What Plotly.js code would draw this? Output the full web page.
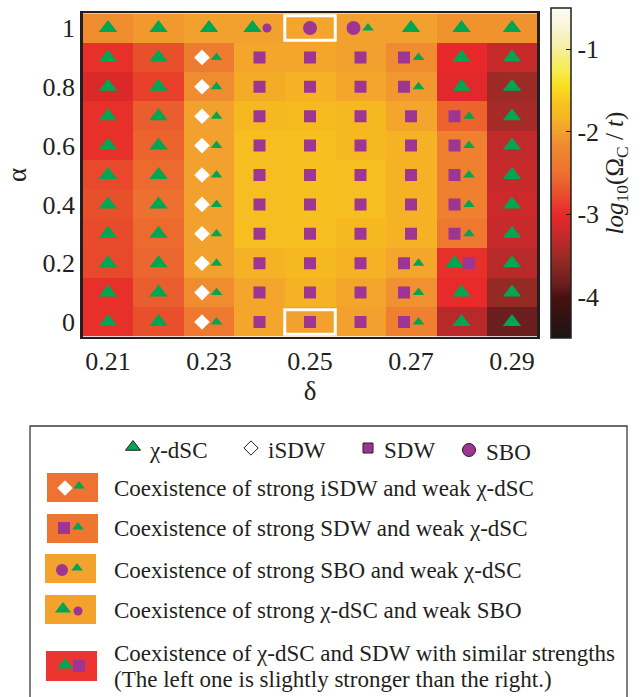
<!DOCTYPE html>
<html>
<head>
<meta charset="utf-8">
<script src="https://cdn.plot.ly/plotly-3.0.1.min.js"></script>
<style>html,body{margin:0;padding:0;background:#fff;}#chart{width:643px;height:697px;}</style>
</head>
<body>
<div id="chart"></div>
<script>
// ---------- data ----------
var deltas = [0.21, 0.22, 0.23, 0.24, 0.25, 0.26, 0.27, 0.28, 0.29];
var alphas = [0, 0.1, 0.2, 0.3, 0.4, 0.5, 0.6, 0.7, 0.8, 0.9, 1.0];
var xTickVals = [0.21, 0.23, 0.25, 0.27, 0.29];
var xTickText = ['0.21', '0.23', '0.25', '0.27', '0.29'];
var yTickVals = [0, 0.2, 0.4, 0.6, 0.8, 1];
var yTickText = ['0', '0.2', '0.4', '0.6', '0.8', '1'];
var cbTickVals = [-4, -3, -2, -1];
var cbTickText = ['-4', '-3', '-2', '-1'];

// log10(Omega_C / t), rows = alpha (0 -> 1), columns = delta
var logOmega = [
  [-2.95, -2.75, -2.40, -1.95, -2.00, -2.00, -2.30, -3.35, -3.85],
  [-2.95, -2.65, -2.15, -1.95, -1.85, -1.95, -2.12, -2.98, -3.55],
  [-2.80, -2.57, -2.00, -1.85, -1.80, -1.85, -1.95, -2.95, -3.35],
  [-2.78, -2.55, -2.00, -1.72, -1.72, -1.80, -1.85, -2.40, -3.25],
  [-2.75, -2.50, -2.00, -1.72, -1.70, -1.72, -1.85, -2.30, -3.20],
  [-2.80, -2.55, -2.00, -1.72, -1.70, -1.72, -1.85, -2.30, -3.25],
  [-2.95, -2.60, -2.00, -1.72, -1.70, -1.80, -1.85, -2.30, -3.30],
  [-2.95, -2.65, -2.00, -1.80, -1.78, -1.80, -1.95, -2.60, -3.45],
  [-3.10, -2.85, -2.15, -1.90, -1.85, -1.95, -2.05, -3.05, -3.50],
  [-2.95, -2.75, -2.35, -1.95, -1.95, -2.00, -2.15, -3.00, -3.25],
  [-2.15, -2.05, -2.00, -2.00, -1.95, -2.00, -2.00, -2.10, -2.10]
];

// phases per cell: T = chi-dSC (strong), t = chi-dSC (weak), D = iSDW, S = SDW,
// C = SBO (strong), c = SBO (weak); "A+B" = coexistence, first one on the left
var phases = [
  ['T', 'T', 'D+t', 'S', 'S', 'S', 'S+t', 'T',   'T'],
  ['T', 'T', 'D+t', 'S', 'S', 'S', 'S+t', 'T',   'T'],
  ['T', 'T', 'D+t', 'S', 'S', 'S', 'S+t', 'T+S', 'T'],
  ['T', 'T', 'D+t', 'S', 'S', 'S', 'S',   'S+t', 'T'],
  ['T', 'T', 'D+t', 'S', 'S', 'S', 'S',   'S+t', 'T'],
  ['T', 'T', 'D+t', 'S', 'S', 'S', 'S',   'S+t', 'T'],
  ['T', 'T', 'D+t', 'S', 'S', 'S', 'S',   'S+t', 'T'],
  ['T', 'T', 'D+t', 'S', 'S', 'S', 'S',   'S+t', 'T'],
  ['T', 'T', 'D+t', 'S', 'S', 'S', 'S+t', 'T',   'T'],
  ['T', 'T', 'D+t', 'S', 'S', 'S', 'S+t', 'T',   'T'],
  ['T', 'T', 'T',   'T+c', 'C', 'C+t', 'T', 'T', 'T']
];

// highlighted cells [delta, alpha]
var highlightCells = [[0.25, 1.0], [0.25, 0.0]];

var legendPhases = ['χ-dSC', 'iSDW', 'SDW', 'SBO'];
var legendRows = [
  'Coexistence of strong iSDW and weak χ-dSC',
  'Coexistence of strong SDW and weak χ-dSC',
  'Coexistence of strong SBO and weak χ-dSC',
  'Coexistence of strong χ-dSC and weak SBO',
  'Coexistence of χ-dSC and SDW with similar strengths',
  '(The left one is slightly stronger than the right.)'
];

// ---------- styles ----------
var FONT = 'Liberation Serif, Times New Roman, serif';
var GREEN = '#00a651', PURPLE = '#9e3592', INK = '#231f20';
var zmin = -4.5, zmax = -0.5;
var cNodes = [
  [-4.5, '#1c1414'], [-4.0, '#4a1010'], [-3.85, '#6a1e1e'], [-3.55, '#952a25'],
  [-3.3, '#c02a2a'], [-3.0, '#e8282a'], [-2.75, '#e8502c'], [-2.5, '#ee7030'],
  [-2.15, '#ef8c30'], [-2.0, '#f2a02e'], [-1.8, '#f5b820'], [-1.65, '#f7c420'],
  [-1.45, '#f8e020'], [-1.2, '#f7ec60'], [-0.9, '#f7f0b8'], [-0.5, '#fcfcf8']
];
var colorscale = cNodes.map(function (n) { return [(n[0] - zmin) / (zmax - zmin), n[1]]; });

var symStyle = {
  T: {symbol: 'triangle-up', size: 16, color: GREEN},
  t: {symbol: 'triangle-up', size: 10, color: GREEN},
  S: {symbol: 'square', size: 12, color: PURPLE},
  D: {symbol: 'diamond', size: 12, color: '#ffffff'},
  C: {symbol: 'circle', size: 14, color: PURPLE},
  c: {symbol: 'circle', size: 9, color: PURPLE}
};
var pxPerUnit = 50.5 / 0.01;
var pairOffsets = [-7 / pxPerUnit, 7.5 / pxPerUnit];

var pts = {};
Object.keys(symStyle).forEach(function (k) { pts[k] = {x: [], y: []}; });
phases.forEach(function (row, i) {
  row.forEach(function (code, j) {
    var parts = code.split('+');
    parts.forEach(function (p, k) {
      var off = parts.length === 1 ? 0 : pairOffsets[k];
      pts[p].x.push(deltas[j] + off);
      pts[p].y.push(alphas[i]);
    });
  });
});

var traces = [{
  type: 'heatmap', x: deltas, y: alphas, z: logOmega,
  zmin: zmin, zmax: zmax, colorscale: colorscale, zsmooth: false,
  hoverinfo: 'skip', xaxis: 'x', yaxis: 'y',
  colorbar: {
    x: 551 / 643, xanchor: 'left', xpad: 0, ypad: 0,
    y: 1 - 173 / 697, yanchor: 'middle',
    len: 330 / 697, lenmode: 'fraction', thickness: 20, thicknessmode: 'pixels',
    outlinecolor: INK, outlinewidth: 1.5,
    tickvals: cbTickVals, ticktext: cbTickText, ticks: 'inside', ticklen: 5, tickcolor: INK,
    tickfont: {family: FONT, size: 26, color: INK},
    title: {text: '<i>log</i><sub>10</sub>(Ω<sub>C</sub> / <i>t</i>)', side: 'right',
            font: {family: FONT, size: 25, color: INK}}
  }
}];
Object.keys(symStyle).forEach(function (k) {
  var s = symStyle[k];
  traces.push({
    type: 'scatter', mode: 'markers', x: pts[k].x, y: pts[k].y,
    xaxis: 'x', yaxis: 'y', hoverinfo: 'skip', showlegend: false,
    marker: {symbol: s.symbol, size: s.size, color: s.color, line: {width: 0}}
  });
});

// ---------- custom legend (pixel coordinates on overlay axes) ----------
var legMarkers = [
  // top row
  {x: 133, y: 447, symbol: 'triangle-up', size: 13, color: GREEN, lw: 1},
  {x: 251, y: 448, symbol: 'diamond', size: 11, color: '#ffffff', lw: 1},
  {x: 368, y: 448, symbol: 'square', size: 10, color: PURPLE, lw: 1},
  {x: 469, y: 450, symbol: 'circle', size: 13, color: PURPLE, lw: 1},
  // swatches
  {x: 65, y: 488, symbol: 'diamond', size: 12, color: '#ffffff', lw: 0},
  {x: 79, y: 486, symbol: 'triangle-up', size: 10, color: GREEN, lw: 0},
  {x: 64, y: 528, symbol: 'square', size: 12, color: PURPLE, lw: 0},
  {x: 78, y: 527, symbol: 'triangle-up', size: 10, color: GREEN, lw: 0},
  {x: 62, y: 570, symbol: 'circle', size: 12, color: PURPLE, lw: 0},
  {x: 77, y: 568, symbol: 'triangle-up', size: 10, color: GREEN, lw: 0},
  {x: 63, y: 609, symbol: 'triangle-up', size: 14, color: GREEN, lw: 0},
  {x: 78, y: 611, symbol: 'circle', size: 9, color: PURPLE, lw: 0},
  {x: 65, y: 665, symbol: 'triangle-up', size: 14, color: GREEN, lw: 0},
  {x: 79, y: 666, symbol: 'square', size: 12, color: PURPLE, lw: 0}
];
legMarkers.forEach(function (m) {
  traces.push({
    type: 'scatter', mode: 'markers', x: [m.x], y: [m.y], xaxis: 'x2', yaxis: 'y2',
    hoverinfo: 'skip', showlegend: false,
    marker: {symbol: m.symbol, size: m.size, color: m.color, line: {width: m.lw, color: INK}}
  });
});

var swatches = [
  {x0: 47, x1: 98, y0: 473, y1: 502, c: '#ee7231'},
  {x0: 47, x1: 98, y0: 514, y1: 543, c: '#ef7630'},
  {x0: 45, x1: 96, y0: 554, y1: 583, c: '#f2a22d'},
  {x0: 45, x1: 96, y0: 595, y1: 624, c: '#f2a22d'},
  {x0: 46, x1: 97, y0: 651, y1: 681, c: '#ec3530'}
];
var shapes = [{
  type: 'rect', xref: 'x2', yref: 'y2', x0: 30, x1: 627, y0: 426, y1: 710,
  line: {color: '#3a3a3a', width: 1.3}, fillcolor: 'rgba(0,0,0,0)', layer: 'below'
}];
swatches.forEach(function (s) {
  shapes.push({type: 'rect', xref: 'x2', yref: 'y2', x0: s.x0, x1: s.x1, y0: s.y0, y1: s.y1,
    line: {width: 0}, fillcolor: s.c, layer: 'below'});
});
var halfX = 0.005, halfY = 0.042;
highlightCells.forEach(function (c) {
  shapes.push({type: 'rect', xref: 'x', yref: 'y',
    x0: c[0] - halfX, x1: c[0] + halfX, y0: c[1] - halfY, y1: c[1] + halfY,
    line: {color: '#ffffff', width: 3}, fillcolor: 'rgba(0,0,0,0)', layer: 'above'});
});

var annotations = [];
var topX = [147, 266, 382, 484], topY = [450, 450, 450, 452];
legendPhases.forEach(function (t, i) {
  annotations.push({xref: 'x2', yref: 'y2', x: topX[i], y: topY[i], text: t, showarrow: false,
    xanchor: 'left', yanchor: 'middle', font: {family: FONT, size: 23, color: INK}});
});
var rowY = [488, 528, 570, 610, 653, 679];
legendRows.forEach(function (t, i) {
  annotations.push({xref: 'x2', yref: 'y2', x: 112, y: rowY[i], text: t, showarrow: false,
    xanchor: 'left', yanchor: 'middle', font: {family: FONT, size: 23, color: INK}});
});

var layout = {
  width: 643, height: 697,
  margin: {l: 0, r: 0, t: 0, b: 0},
  paper_bgcolor: '#ffffff', plot_bgcolor: 'rgba(0,0,0,0)',
  showlegend: false,
  xaxis: {
    domain: [82.75 / 643, 537.25 / 643], anchor: 'y',
    range: [0.205, 0.295], tickvals: xTickVals, ticktext: xTickText,
    ticks: '', showgrid: false, zeroline: false,
    showline: true, mirror: true, linecolor: INK, linewidth: 2.5,
    tickfont: {family: FONT, size: 26, color: INK},
    title: {text: 'δ', font: {family: FONT, size: 27, color: INK}, standoff: 6}
  },
  yaxis: {
    domain: [1 - 336.7 / 697, 1 - 13.3 / 697], anchor: 'x',
    range: [-0.05, 1.05], tickvals: yTickVals, ticktext: yTickText,
    ticks: '', showgrid: false, zeroline: false,
    showline: true, mirror: true, linecolor: INK, linewidth: 2.5,
    tickfont: {family: FONT, size: 26, color: INK},
    title: {text: 'α', font: {family: FONT, size: 27, color: INK}, standoff: 8}
  },
  xaxis2: {domain: [0, 1], anchor: 'y2', range: [0, 643], visible: false, fixedrange: true},
  yaxis2: {domain: [0, 1], anchor: 'x2', range: [697, 0], visible: false, fixedrange: true},
  shapes: shapes,
  annotations: annotations
};

Plotly.newPlot('chart', traces, layout, {displayModeBar: false, staticPlot: true});
</script>
</body>
</html>
